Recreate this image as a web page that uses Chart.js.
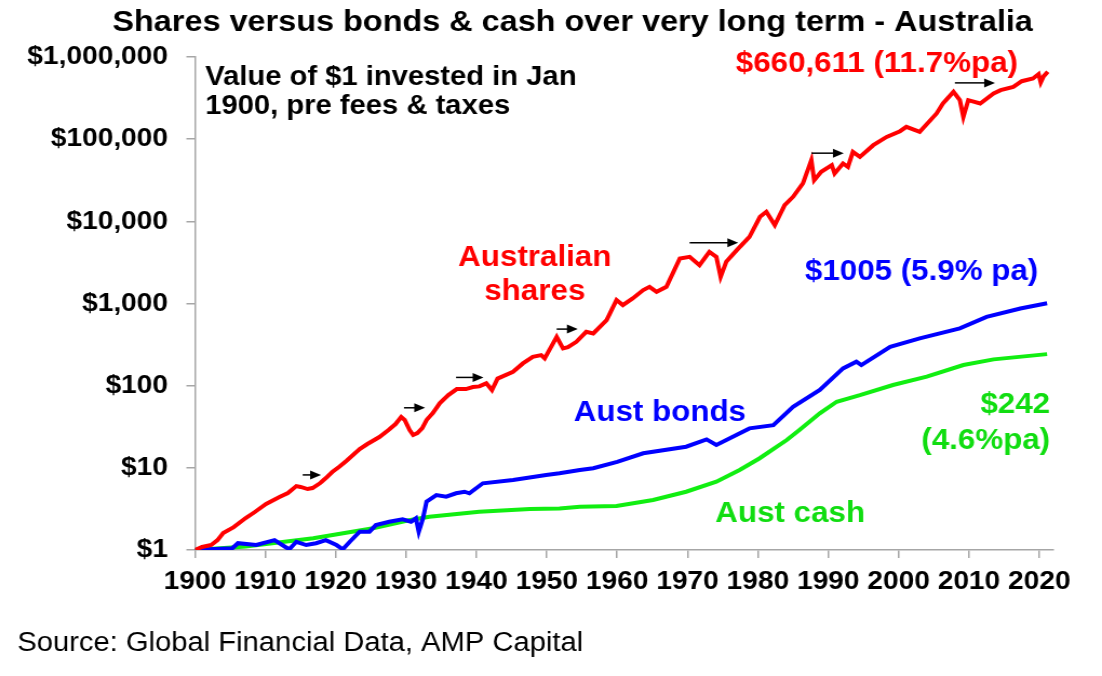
<!DOCTYPE html>
<html>
<head>
<meta charset="utf-8">
<script src="https://cdn.jsdelivr.net/npm/chart.js@4.4.1/dist/chart.umd.min.js"></script>
<style>
    html, body { margin: 0; padding: 0; background: #fff; overflow: hidden; }
    /* the source picture is a little wider than it is tall, so the chart is drawn narrow and stretched */
    #wrap { position: absolute; left: 0; top: 0; width: 1020px; height: 676px; transform: scaleX(1.0804); transform-origin: 0 0; }
</style>
</head>
<body>
<div id="wrap"><canvas id="chart"></canvas></div>
<script>
    const xTicks = [1900, 1910, 1920, 1930, 1940, 1950, 1960, 1970, 1980, 1990, 2000, 2010, 2020];
    const yTicks = [1, 10, 100, 1000, 10000, 100000, 1000000];

    const sharesYears = [1900, 1901, 1902.3, 1903.2, 1904, 1905.5, 1907.2, 1908.5, 1910.1, 1912, 1913.2, 1914.4, 1915, 1916, 1916.7, 1917.8,
        1918.6, 1919.5, 1920.5, 1921.5, 1923.4, 1924.5, 1926.2, 1927.5, 1928.5, 1929.3, 1929.8, 1930.5, 1931, 1931.6, 1932.3, 1932.9,
        1933.8, 1934.8, 1936, 1937.2, 1938.5, 1939.5, 1940.4, 1941.4, 1942.2, 1943, 1945.2, 1946.6, 1948, 1949.2, 1949.7,
        1951.4, 1952.3, 1953, 1954.2, 1955.6, 1956.6, 1958.5, 1959.9, 1960.8, 1962.2, 1963.7, 1964.6, 1965.6, 1967, 1967.9,
        1968.9, 1970.3, 1971.7, 1973.1, 1974.1, 1974.7, 1975.5, 1977, 1978.8, 1980.3, 1981.2, 1982.4, 1983.8, 1985,
        1986.4, 1987.6, 1988, 1989, 1990.5, 1990.9, 1992.1, 1992.8, 1993.5, 1994.5, 1996.4, 1998.3, 2000.2, 2001.1, 2003,
        2005.4, 2006.3, 2007.8, 2008.7, 2009.2, 2009.9, 2011.6, 2013.5, 2014.5, 2016.3, 2017.5, 2019.1, 2019.9, 2020.2,
        2020.6, 2021.2];
    const sharesValues = [1, 1.09, 1.15, 1.32, 1.61, 1.9, 2.45, 2.9, 3.63, 4.41, 4.94, 6.0, 5.85, 5.52, 5.68, 6.53,
        7.51, 8.89, 10.3, 12.1, 16.9, 19.5, 23.7, 28.8, 34.1, 41.5, 38.2, 28.8, 25.1, 26.5, 30.5, 38.2,
        46.4, 61.4, 76.9, 90.9, 90.9, 96.2, 98, 106.7, 88.4, 122, 147.6, 186.6, 224.7, 235.6, 214.8,
        393, 284.3, 295, 342, 452.6, 432.5, 628.6, 1100, 956.6, 1153, 1456, 1597, 1388, 1597, 2323,
        3538, 3700, 2932, 4256, 3700, 2112, 3217, 4462, 6477, 11340, 13050, 8990, 15740, 19870,
        28920, 55530, 31710, 40020, 48280, 38250, 50630, 46030, 70100, 60950, 84500, 106600, 125000, 141200, 122700,
        205600, 271700, 376200, 298200, 186800, 298200, 271700, 359700, 394500, 432800, 507600, 547000, 620000, 490000,
        580000, 660611];

    const bondsYears = [1900, 1902, 1905.3, 1906.1, 1908.7, 1911.3, 1912.9, 1913.4, 1914.4, 1915.8, 1917.2, 1918.6, 1920.1, 1921, 1922,
        1923.4, 1924.8, 1925.7, 1927.6, 1929.5, 1930.7, 1931.4, 1931.8, 1932.4, 1932.9, 1934.3, 1935.7, 1937.1, 1938.3, 1939,
        1940.9, 1945.2, 1949.9, 1951.8, 1954.7, 1956.6, 1960, 1963.7, 1969.8, 1972.7, 1974.1, 1978.8, 1982.2, 1985, 1988.8,
        1992.1, 1994, 1994.7, 1998.8, 2003, 2008.7, 2012.5, 2017.3, 2021.1];
    const bondsValues = [1, 1.02, 1.05, 1.21, 1.15, 1.32, 1.08, 1.02, 1.26, 1.15, 1.21, 1.32, 1.15, 1.02, 1.26,
        1.67, 1.67, 2.01, 2.21, 2.36, 2.21, 2.43, 1.67, 2.43, 3.87, 4.66, 4.45, 4.9, 5.12, 4.9,
        6.48, 7.11, 8.18, 8.57, 9.4, 9.88, 11.8, 15.04, 18.07, 22.2, 18.95, 30.2, 33.1, 55.4, 88.6,
        162, 195.6, 178.3, 297.7, 375.9, 497.5, 687, 868, 1005];

    const cashYears = [1900, 1907.2, 1916.8, 1925.3, 1930.4, 1933.3, 1940.4, 1947.6, 1951.8, 1954.7, 1959.9, 1965.1, 1969.8,
        1974.1, 1977.4, 1980.2, 1984.1, 1985.9, 1988.8, 1991.2, 1994.5, 1999.2, 2004, 2009.2, 2013.5, 2021.1];
    const cashValues = [1, 1.1, 1.39, 1.84, 2.3, 2.54, 2.93, 3.15, 3.21, 3.37, 3.43, 4.06, 5.12,
        6.78, 9.4, 13, 21.8, 28.8, 46, 63.7, 76.6, 101.8, 128.8, 178.3, 209, 242];

    // the little black arrows along the shares line
    const arrowFrom = [1915.3, 1929.7, 1937.1, 1951.4, 1970.3, 1987.6, 2008.0];
    const arrowTo = [1917.9, 1932.7, 1941.0, 1954.4, 1977.2, 1992.2, 2013.7];
    const arrowAt = [8.2, 53.8, 126, 488, 5470, 67550, 484200];

    const FONT = '"Liberation Sans", Arial, sans-serif';
    Chart.defaults.font.family = FONT;

    function toPoints(xs, ys) {
        return xs.map((x, i) => ({ x: x, y: ys[i] }));
    }

    const notes = [
        { text: "Shares versus bonds & cash over very long term - Australia", x: 530, y: 31, size: 30, color: "#000", align: "center" },
        { text: "Value of $1 invested in Jan", x: 190, y: 85, size: 27, color: "#000", align: "left" },
        { text: "1900, pre fees & taxes", x: 190, y: 114, size: 27, color: "#000", align: "left" },
        { text: "$660,611 (11.7%pa)", x: 681, y: 72, size: 29, color: "#ff0000", align: "left" },
        { text: "Australian", x: 495, y: 266, size: 29, color: "#ff0000", align: "center" },
        { text: "shares", x: 495, y: 300, size: 29, color: "#ff0000", align: "center" },
        { text: "$1005 (5.9% pa)", x: 745, y: 280, size: 29, color: "#0000ff", align: "left" },
        { text: "Aust bonds", x: 531, y: 421, size: 29, color: "#0000ff", align: "left" },
        { text: "$242", x: 972, y: 413, size: 29, color: "#11dd11", align: "right" },
        { text: "(4.6%pa)", x: 972, y: 449, size: 29, color: "#11dd11", align: "right" },
        { text: "Aust cash", x: 662, y: 522, size: 29, color: "#11dd11", align: "left" }
    ];

    const arrowsPlugin = {
        id: "arrows",
        afterDatasetsDraw(chart) {
            const ctx = chart.ctx;
            const xs = chart.scales.x, ys = chart.scales.y;
            ctx.save();
            ctx.strokeStyle = "#000";
            ctx.fillStyle = "#000";
            ctx.lineWidth = 1.5;
            arrowFrom.forEach((a, i) => {
                const x1 = xs.getPixelForValue(a);
                const x2 = xs.getPixelForValue(arrowTo[i]);
                const y = ys.getPixelForValue(arrowAt[i]);
                ctx.beginPath();
                ctx.moveTo(x1, y);
                ctx.lineTo(x2 - 8, y);
                ctx.stroke();
                ctx.beginPath();
                ctx.moveTo(x2, y);
                ctx.lineTo(x2 - 10, y - 4.5);
                ctx.lineTo(x2 - 10, y + 4.5);
                ctx.closePath();
                ctx.fill();
            });
            ctx.restore();
        }
    };

    const notesPlugin = {
        id: "notes",
        afterDraw(chart) {
            const ctx = chart.ctx;
            ctx.save();
            ctx.textBaseline = "alphabetic";
            notes.forEach(n => {
                ctx.font = "bold " + n.size + "px " + FONT;
                ctx.fillStyle = n.color;
                ctx.textAlign = n.align;
                ctx.fillText(n.text, n.x, n.y);
            });
            ctx.font = "27px " + FONT;
            ctx.fillStyle = "#000";
            ctx.textAlign = "left";
            ctx.fillText("Source: Global Financial Data, AMP Capital", 16, 651);
            ctx.restore();
        }
    };

    const axisGrey = "#a6a6a6";

    new Chart(document.getElementById("chart"), {
        type: "line",
        data: {
            datasets: [
                { label: "Australian shares", data: toPoints(sharesYears, sharesValues), borderColor: "#ff0000", borderWidth: 4, pointRadius: 0, tension: 0 },
                { label: "Aust bonds", data: toPoints(bondsYears, bondsValues), borderColor: "#0000ff", borderWidth: 4, pointRadius: 0, tension: 0 },
                { label: "Aust cash", data: toPoints(cashYears, cashValues), borderColor: "#11ee11", borderWidth: 4, pointRadius: 0, tension: 0 }
            ]
        },
        options: {
            responsive: true,
            maintainAspectRatio: false,
            animation: false,
            layout: { padding: { top: 57, right: 45, bottom: 0, left: 0 } },
            plugins: { legend: { display: false }, tooltip: { enabled: false } },
            scales: {
                x: {
                    type: "linear",
                    min: 1900,
                    max: 2022,
                    afterBuildTicks: s => { s.ticks = xTicks.map(v => ({ value: v })); },
                    afterFit: s => { s.height = 126; },
                    ticks: { callback: v => String(v), color: "#000", font: { size: 26, weight: "bold" }, padding: 8, maxRotation: 0, autoSkip: false },
                    grid: { drawOnChartArea: false, tickLength: 8, color: axisGrey, lineWidth: 1.5 },
                    border: { color: axisGrey, width: 1.5 }
                },
                y: {
                    type: "logarithmic",
                    min: 1,
                    max: 1000000,
                    afterBuildTicks: s => { s.ticks = yTicks.map(v => ({ value: v })); },
                    afterFit: s => { s.width = 180.5; },
                    ticks: { callback: v => "$" + Number(v).toLocaleString("en-US"), color: "#000", font: { size: 26, weight: "bold" }, padding: 17, autoSkip: false },
                    grid: { drawOnChartArea: false, tickLength: 8, color: axisGrey, lineWidth: 1.5 },
                    border: { color: axisGrey, width: 1.5 }
                }
            }
        },
        plugins: [arrowsPlugin, notesPlugin]
    });
</script>
</body>
</html>
